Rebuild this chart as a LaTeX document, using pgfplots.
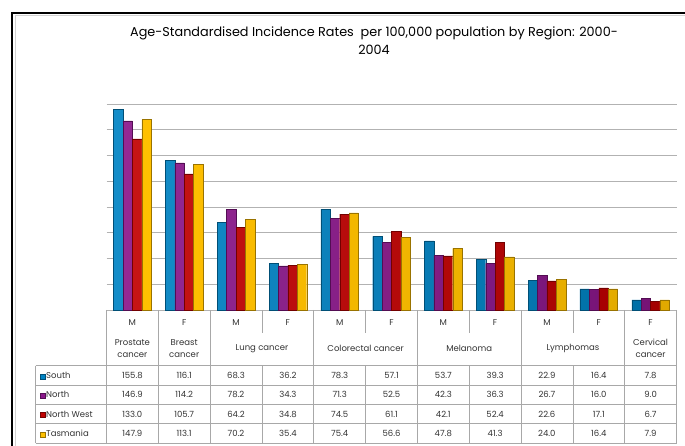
\documentclass[border=0pt]{standalone}
\usepackage{pgfplots}
\pgfplotsset{compat=1.18}
\usepackage{fontspec}
\setmainfont{Poppins}
\definecolor{cS}{HTML}{0083C4}
\definecolor{cN}{HTML}{8A168A}
\definecolor{cNW}{HTML}{C00000}
\definecolor{cT}{HTML}{FFC000}
\definecolor{tline}{HTML}{A8A8A8}
\begin{document}
\begin{tikzpicture}[x=1pt,y=1pt]
\useasboundingbox (0,0) rectangle (685,446);
% frame
\draw[gray!35, line width=1pt] (15,0) -- (15,430) -- (685,430);
\draw[line width=2.6pt] (12,0) -- (12,433) -- (685,433);
% title
\node[font=\fontsize{12.8}{18}\selectfont, align=center] at (374,405) {Age-Standardised Incidence Rates\ \ per 100,000 population by Region: 2000-\\2004};
\begin{axis}[at={(106.5pt,136pt)}, anchor=south west, scale only axis,
  width=570pt, height=206pt,
  xmin=-0.5, xmax=10.5, ymin=0, ymax=160,
  ytick={0,20,...,160}, yticklabels={}, xtick=\empty,
  axis line style={draw=none}, major tick length=0pt,
  ymajorgrids, grid style={gray!60, line width=0.9pt},
  ybar=0pt, bar width=9.4pt,
  clip=false]
\addplot[left color=cS!92!white, right color=cS!85!black, draw=cS!60!black, line width=0.3pt] coordinates {(0,155.8)(1,116.1)(2,68.3)(3,36.2)(4,78.3)(5,57.1)(6,53.7)(7,39.3)(8,22.9)(9,16.4)(10,7.8)};
\addplot[left color=cN!92!white, right color=cN!85!black, draw=cN!60!black, line width=0.3pt] coordinates {(0,146.9)(1,114.2)(2,78.2)(3,34.3)(4,71.3)(5,52.5)(6,42.3)(7,36.3)(8,26.7)(9,16.0)(10,9.0)};
\addplot[left color=cNW!92!white, right color=cNW!85!black, draw=cNW!60!black, line width=0.3pt] coordinates {(0,133.0)(1,105.7)(2,64.2)(3,34.8)(4,74.5)(5,61.1)(6,42.1)(7,52.4)(8,22.6)(9,17.1)(10,6.7)};
\addplot[left color=cT, right color=cT!88!black, draw=cT!60!black, line width=0.3pt] coordinates {(0,147.9)(1,113.1)(2,70.2)(3,35.4)(4,75.4)(5,56.6)(6,47.8)(7,41.3)(8,24.0)(9,16.4)(10,7.9)};
\end{axis}
% table lines
\begin{scope}[tline, line width=0.7pt]
\foreach \k in {0,1,2,4,6,8,10,11} \draw ({106.5+51.818*\k},136) -- ({106.5+51.818*\k},3);
\foreach \k in {3,5,7,9} {\draw ({106.5+51.818*\k},136) -- ({106.5+51.818*\k},113);
  \draw ({106.5+51.818*\k},80.3) -- ({106.5+51.818*\k},3);}
\draw (35.5,80.3) -- (35.5,3);
\foreach \y in {80.3,61,41.7,22.3,3} \draw (35.5,\y) -- (676.5,\y);
\end{scope}
% header
\begin{scope}[font=\fontsize{8.5}{12}\selectfont, text=black!80]
\foreach \k/\s in {0/M,1/F,2/M,3/F,4/M,5/F,6/M,7/F,8/M,9/F,10/F} \node at ({132.4+51.818*\k},123) {\s};
\node[align=center] at (132.4,97.5) {Prostate\\cancer};
\node[align=center] at (184.2,97.5) {Breast\\cancer};
\node at (261.95,97.5) {Lung cancer};
\node at (365.6,97.5) {Colorectal cancer};
\node at (469.2,97.5) {Melanoma};
\node at (572.9,97.5) {Lymphomas};
\node[align=center] at (650.6,97.5) {Cervical\\cancer};
\end{scope}
% rows
\begin{scope}[font=\fontsize{8.5}{10}\selectfont, text=black!80]
\foreach \c/\n/\y/\a/\b/\cc/\d/\e/\f/\g/\h/\i/\j/\l in {
 cS/South/70.7/155.8/116.1/68.3/36.2/78.3/57.1/53.7/39.3/22.9/16.4/7.8,
 cN/North/51.3/146.9/114.2/78.2/34.3/71.3/52.5/42.3/36.3/26.7/16.0/9.0,
 cNW/North West/32/133.0/105.7/64.2/34.8/74.5/61.1/42.1/52.4/22.6/17.1/6.7,
 cT/Tasmania/12.7/147.9/113.1/70.2/35.4/75.4/56.6/47.8/41.3/24.0/16.4/7.9} {
 \fill[\c, draw=\c!60!black, line width=0.3pt] (40,\y-3.5) rectangle (45,\y+1.5);
 \node[anchor=west, inner sep=0pt] at (46,\y) {\n};
 \node at (132.4,\y) {\a};
 \node at (184.2,\y) {\b};
 \node at (236.0,\y) {\cc};
 \node at (287.9,\y) {\d};
 \node at (339.7,\y) {\e};
 \node at (391.5,\y) {\f};
 \node at (443.3,\y) {\g};
 \node at (495.1,\y) {\h};
 \node at (546.9,\y) {\i};
 \node at (598.8,\y) {\j};
 \node at (650.6,\y) {\l};
}
\end{scope}
\end{tikzpicture}
\end{document}
